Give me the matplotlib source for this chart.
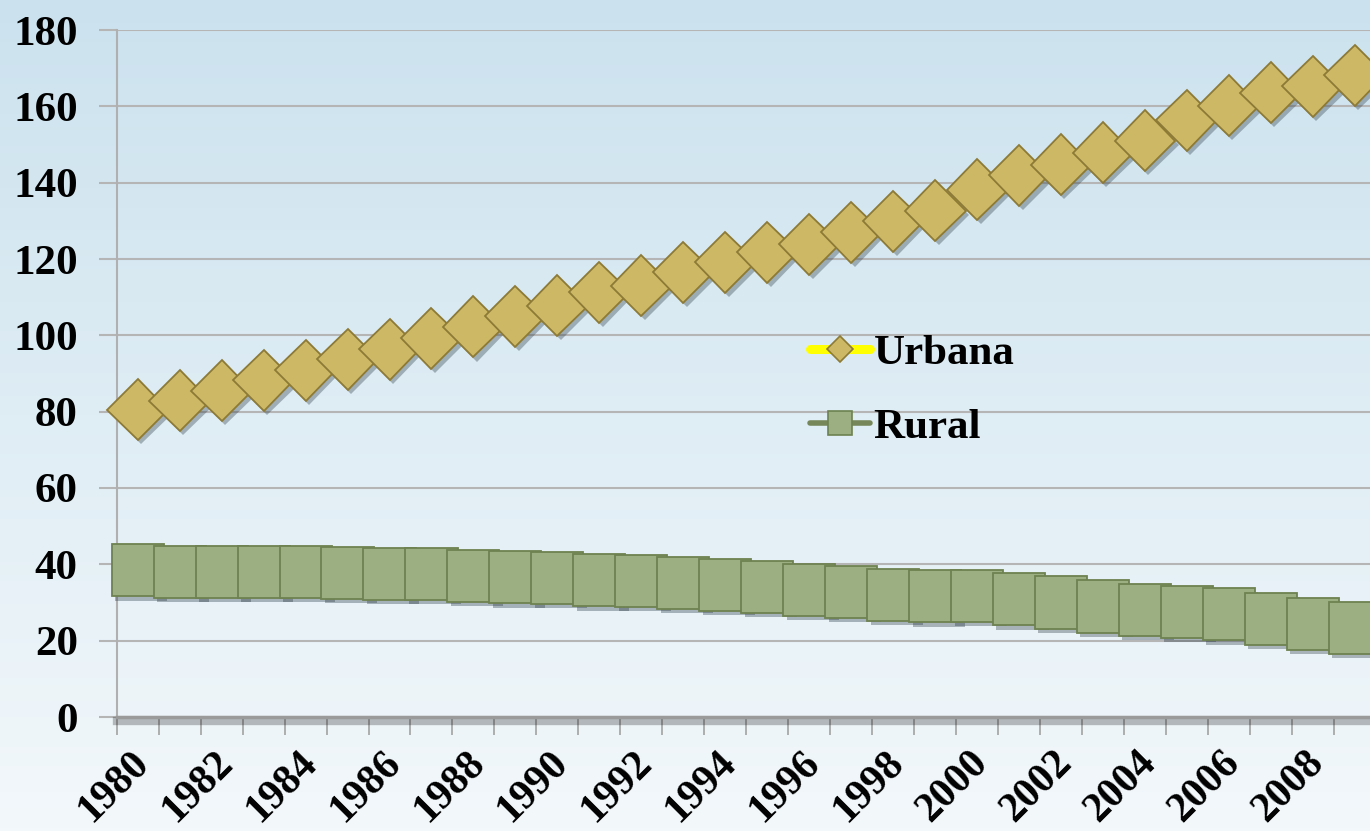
import numpy as np
import matplotlib
matplotlib.use('Agg')
import matplotlib.pyplot as plt
import matplotlib.patheffects as pe
from matplotlib.lines import Line2D
from matplotlib.font_manager import FontProperties

years = list(range(1980, 2010))
urbana = [80.5, 82.9, 85.5, 88.2, 90.9, 93.7, 96.4, 99.2, 102.2, 105.0,
          107.8, 111.3, 113.0, 116.5, 119.1, 121.8, 123.8, 127.0, 129.9, 132.7,
          138.2, 141.9, 144.7, 147.9, 151.0, 156.4, 160.2, 163.6, 165.2, 168.1]
rural = [38.4, 38.1, 38.1, 38.1, 38.1, 37.75, 37.5, 37.5, 36.9, 36.6,
         36.4, 35.8, 35.6, 35.1, 34.6, 34.0, 33.3, 32.7, 31.9, 31.6,
         31.8, 30.8, 30.0, 28.95, 28.1, 27.5, 26.9, 25.7, 24.4, 23.3]
series_names = ['Urbana', 'Rural']
y_ticks = [0, 20, 40, 60, 80, 100, 120, 140, 160, 180]
x_labels = [str(y) for y in years[::2]]

YFONT = FontProperties(family='Liberation Serif', weight='bold', size=31)
XFONT = FontProperties(family='Liberation Serif', weight='bold', size=30)
LFONT = FontProperties(family='Liberation Serif', weight='bold', size=31)

fig = plt.figure(figsize=(13.7, 8.31), dpi=100)

# background gradient
bg = fig.add_axes([0, 0, 1, 1], zorder=-10)
g = np.linspace(0, 1, 256)[:, None, None]
top = np.array([203, 226, 238]) / 255
bot = np.array([243, 248, 251]) / 255
img = top + (bot - top) * g
bg.imshow(img, aspect='auto', extent=[0, 1, 0, 1])
bg.axis('off')

ax = fig.add_axes([116.7 / 1370, 114 / 831, (1375.8 - 116.7) / 1370, 687 / 831])
ax.patch.set_alpha(0)

x = np.arange(len(years))
grid_c = '#b5b5b5'

ax.set_ylim(0, 180)
ax.set_yticks(y_ticks)
ax.yaxis.grid(True, color=grid_c, lw=1.5)
ax.set_axisbelow(True)
ax.set_xlim(-0.5, len(years) - 0.5)

ax.set_xticks(x[::2] + 0.13)
ax.set_xticklabels(x_labels)
ax.set_xticks(np.arange(-0.5, len(years), 1), minor=True)
ax.tick_params(axis='x', which='major', length=0, pad=29)
ax.tick_params(axis='x', which='minor', length=13, width=1.3, color='#a8a8a8', direction='out')
ax.tick_params(axis='y', length=13, width=1.5, color=grid_c, pad=15)

for lab in ax.get_xticklabels():
    lab.set_rotation(45)
    lab.set_ha('right')
    lab.set_va('center')
    lab.set_rotation_mode('anchor')
    lab.set_fontproperties(XFONT)
for lab in ax.get_yticklabels():
    lab.set_fontproperties(YFONT)

for s in ['top', 'right']:
    ax.spines[s].set_visible(False)
ax.spines['left'].set_color('#b0b0b0')
ax.spines['left'].set_linewidth(1.5)
ax.spines['bottom'].set_color('#9a9a9a')
ax.spines['bottom'].set_linewidth(2.5)
ax.spines['bottom'].set_path_effects([
    pe.SimpleLineShadow(offset=(0, -3), shadow_color='k', alpha=0.25, linewidth=6),
    pe.Normal()])

shadow = [pe.SimplePatchShadow(offset=(2.5, -3), shadow_rgbFace='#2a3a44', alpha=0.35), pe.Normal()]

u_face, u_edge, u_line = '#cdb865', '#8c7a36', '#ffff00'
r_face, r_edge, r_line = '#9caf82', '#6d8250', '#76885a'

ax.plot(x, urbana, color=u_line, lw=5, zorder=3, clip_on=False)
ax.plot(x, urbana, ls='none', marker='D', ms=31, mfc=u_face, mec=u_edge, mew=1.3,
        zorder=4, path_effects=shadow, clip_on=False)
ax.plot(x, rural, color=r_line, lw=3, zorder=3, clip_on=False)
ax.plot(x, rural, ls='none', marker='s', ms=37.5, mfc=r_face, mec=r_edge, mew=1.3,
        zorder=4, path_effects=shadow, clip_on=False)

h1 = Line2D([], [], color=u_line, lw=6.5, marker='D', ms=13, mfc=u_face, mec=u_edge,
            mew=1.2, solid_capstyle='round')
h2 = Line2D([], [], color=r_line, lw=4, marker='s', ms=17, mfc=r_face, mec=r_edge,
            mew=1.2, solid_capstyle='round')
leg = ax.legend([h1, h2], series_names, loc='upper left',
                bbox_to_anchor=(810 / 1370, 1 - 334 / 831), bbox_transform=fig.transFigure,
                frameon=False, prop=LFONT,
                handlelength=1.4, handletextpad=0.08, labelspacing=0.8,
                borderpad=0, borderaxespad=0)

fig.savefig('out.png', dpi=100)
